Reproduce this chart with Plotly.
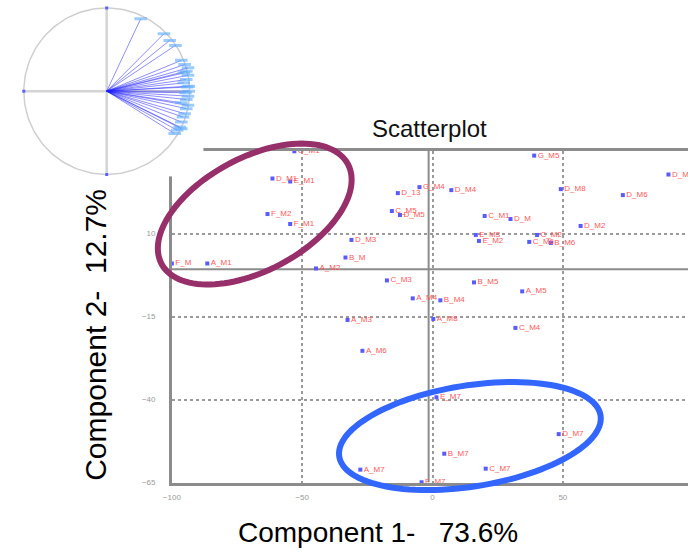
import numpy as np
import plotly.graph_objects as go

W, H = 688, 553

# Sample scores on the first two principal components
labels = ["G_M1", "D_M1", "E_M1", "F_M2", "F_M1", "F_M", "A_M1", "A_M2",
          "D_M3", "B_M", "G_M4", "D_13", "D_M4", "C_M5", "D_M5", "C_M1",
          "D_M", "E_M3", "E_M2", "G_M5", "D_M8", "D_M6", "D_M9", "D_M2",
          "C_M2", "C_M6", "B_M6", "C_M3", "B_M5", "A_M5", "A_M4", "B_M4",
          "A_M8", "A_M3", "C_M4", "A_M6", "E_M7", "D_M7", "B_M7", "C_M7",
          "F_M7", "A_M7"]
comp1 = [-53.0, -61.4, -54.6, -63.3, -54.6, -100.0, -86.4, -44.7,
         -31.1, -33.4, -5.0, -13.3, 7.2, -15.6, -12.5, 20.0,
         29.9, 16.6, 17.8, 39.0, 49.2, 73.0, 90.5, 56.8,
         40.1, 37.1, 45.4, -17.5, 15.9, 34.4, -7.6, 3.0,
         0.3, -32.6, 31.8, -26.9, 1.5, 48.4, 4.5, 20.4,
         -4.2, -27.7]
comp2 = [34.8, 26.6, 25.7, 15.9, 12.9, 1.0, 1.0, -0.5,
         8.1, 2.8, 24.0, 22.2, 23.1, 16.8, 15.6, 15.3,
         14.4, 9.6, 7.8, 33.5, 23.4, 21.6, 27.8, 12.3,
         9.6, 7.5, 7.2, -4.1, -4.7, -7.4, -9.5, -10.1,
         -15.7, -16.0, -18.4, -25.3, -39.3, -50.4, -56.3, -60.8,
         -64.9, -61.1]

# Variable loadings drawn in the correlation circle
load1 = [0.41, 0.69, 0.76, 0.83, 0.90, 0.94, 0.98, 0.96, 0.98, 0.96, 0.99,
         0.99, 0.98, 0.96, 0.98, 0.96, 0.94, 0.92, 0.90, 0.88, 0.85, 0.82,
         0.93, 0.95, 0.90, 0.97, 0.93, 0.90]
load2 = [0.87, 0.69, 0.61, 0.55, 0.37, 0.32, 0.28, 0.24, 0.19, 0.14, 0.06,
         0.00, -0.06, -0.10, -0.17, -0.21, -0.27, -0.31, -0.37, -0.43, -0.47,
         -0.51, 0.10, -0.02, -0.14, 0.05, 0.22, -0.45]

x_ticks = [-100, -50, 0, 50, 100]
y_ticks = [10, -15, -40, -65]

fig = go.Figure()

# ---- main score plot ----
fig.add_trace(go.Scatter(
    x=comp1, y=comp2, mode="markers+text", text=labels,
    textposition="middle right",
    textfont=dict(family="Liberation Sans, Arial", size=8, color="#ff5a5a"),
    marker=dict(symbol="square", size=4, color="#5a5aff"),
    cliponaxis=False, xaxis="x", yaxis="y", showlegend=False,
    hoverinfo="text"))

# ---- correlation circle inset ----
theta = np.linspace(0, 2 * np.pi, 181)
fig.add_trace(go.Scatter(
    x=np.cos(theta), y=np.sin(theta), mode="lines",
    line=dict(color="#cfcfcf", width=1.5),
    xaxis="x2", yaxis="y2", showlegend=False, hoverinfo="skip"))
fig.add_trace(go.Scatter(
    x=[-1, 1, None, 0, 0], y=[0, 0, None, -1, 1], mode="lines",
    line=dict(color="#d4d4d4", width=2.5),
    xaxis="x2", yaxis="y2", showlegend=False, hoverinfo="skip"))
vx, vy = [], []
for a, b in zip(load1, load2):
    vx += [0, a, None]
    vy += [0, b, None]
fig.add_trace(go.Scatter(
    x=vx, y=vy, mode="lines",
    line=dict(color="rgba(30,30,255,0.5)", width=1),
    xaxis="x2", yaxis="y2", showlegend=False, hoverinfo="skip"))
fig.add_trace(go.Scatter(
    x=load1, y=load2, mode="markers",
    marker=dict(symbol="line-ew", size=9,
                line=dict(color="rgba(90,170,255,0.6)", width=3)),
    xaxis="x2", yaxis="y2", showlegend=False, hoverinfo="skip"))
fig.add_trace(go.Scatter(
    x=[-1, 0, 0], y=[0, 1, -1], mode="markers",
    marker=dict(symbol="square", size=3, color="#6060ff"),
    xaxis="x2", yaxis="y2", showlegend=False, hoverinfo="skip"))


def ellipse_path(cx, cy, a, b, deg, n=120):
    """Closed SVG path of a rotated ellipse given in pixel units."""
    t = np.linspace(0, 2 * np.pi, n)
    r = np.deg2rad(deg)
    px = cx + a * np.cos(t) * np.cos(r) - b * np.sin(t) * np.sin(r)
    py = cy - (a * np.cos(t) * np.sin(r) + b * np.sin(t) * np.cos(r))
    pts = [f"{x / W:.5f},{1 - y / H:.5f}" for x, y in zip(px, py)]
    return "M " + " L ".join(pts) + " Z"


shapes = [
    # solid centre lines of the score plot
    dict(type="line", xref="x", yref="y", x0=-1.5, x1=-1.5, y0=-65, y1=35,
         line=dict(color="#8c8c8c", width=2), layer="below"),
    dict(type="line", xref="x", yref="y", x0=-100, x1=98, y0=-0.7, y1=-0.7,
         line=dict(color="#8c8c8c", width=2), layer="below"),
    # hand-drawn group outlines
    dict(type="path", xref="paper", yref="paper",
         path=ellipse_path(249, 216, 107, 57, 28),
         line=dict(color="#97306a", width=6)),
    dict(type="path", xref="paper", yref="paper",
         path=ellipse_path(467, 440, 134, 51, 8.9),
         line=dict(color="#3366ff", width=6)),
]

annotations = [
    dict(text="Scatterplot", x=426 / W, y=1 - 130 / H, xref="paper",
         yref="paper", showarrow=False, xanchor="center", yanchor="middle",
         font=dict(family="Liberation Sans, Arial", size=24, color="#111")),
    dict(text="Component 1-\u00a0\u00a0\u00a073.6%", x=374 / W, y=1 - 537 / H,
         xref="paper", yref="paper", showarrow=False,
         xanchor="center", yanchor="middle",
         font=dict(family="Liberation Sans, Arial", size=28, color="#000")),
    dict(text="Component 2-\u00a0\u00a012.7%", x=88 / W, y=1 - 338 / H,
         xref="paper", yref="paper", showarrow=False, textangle=-90,
         xanchor="center", yanchor="middle",
         font=dict(family="Liberation Sans Narrow, Arial Narrow, Liberation Sans",
                   size=30, color="#000")),
]

grid = dict(showgrid=True, gridcolor="#9a9a9a", gridwidth=1.5, griddash="dot",
            zeroline=False, showline=True, linecolor="#8c8c8c", linewidth=2.5,
            ticks="", tickfont=dict(family="Liberation Sans, Arial", size=8,
                                    color="#9a9a9a"))

fig.update_layout(
    width=W, height=H, margin=dict(l=0, r=0, t=0, b=0),
    paper_bgcolor="white", plot_bgcolor="white",
    xaxis=dict(domain=[165 / W, 1], range=[-100, 98], tickvals=x_ticks,
               mirror=True, ticklabelstandoff=5, anchor="y", **grid),
    yaxis=dict(domain=[66 / H, 401 / H], range=[-65, 35], tickvals=y_ticks,
               ticklabelstandoff=12, anchor="x", **grid),
    xaxis2=dict(domain=[0, 197 / W], range=[-99 / 84, 98 / 84],
                visible=False, anchor="y2"),
    yaxis2=dict(domain=[1 - 178 / H, 1], range=[-86 / 84, 92 / 84],
                visible=False, anchor="x2"),
    shapes=shapes, annotations=annotations,
)

fig.write_html("out.html")
